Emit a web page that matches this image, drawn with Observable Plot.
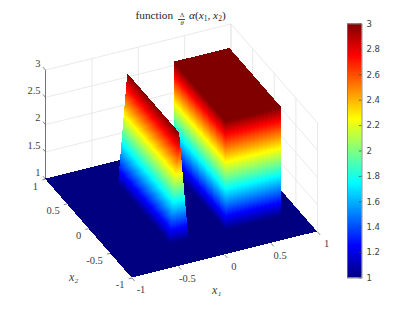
<!DOCTYPE html>
<html>
<head>
<meta charset="utf-8">
<script src="https://cdn.jsdelivr.net/npm/d3@7"></script>
<script src="https://cdn.jsdelivr.net/npm/@observablehq/plot@0.6"></script>
<style>
html,body{margin:0;padding:0;background:#fff}
#chart{position:relative;width:415px;height:312px;overflow:hidden}
#chart svg{position:absolute;left:0;top:0;background:transparent}
#title{position:absolute;left:135.5px;top:9px;font:11.3px "Liberation Serif",serif;color:#262626;white-space:nowrap;line-height:12px}
#title i{font-style:italic}
#title sub{font-size:7.5px;line-height:0;vertical-align:-2px}
#title .frac{display:inline-block;vertical-align:-5.5px;text-align:center;font-size:6.5px;line-height:6.5px;width:7px;margin:0 3.5px 0 2.5px}
#title .frac span{display:block}
#title .frac span+span{border-top:.6px solid #444;font-style:italic}
</style>
</head>
<body>
<div id="chart">
<div id="title">function <span class="frac"><span>Λ</span><span>θ</span></span><i>α</i>(<i>x</i><sub>1</sub>, <i>x</i><sub>2</sub>)</div>
</div>
<script>
// ---- data ----
const axisTicks = [-1, -0.5, 0, 0.5, 1];
const zTicks = [1, 1.5, 2, 2.5, 3];
const colorbarTicks = [1, 1.2, 1.4, 1.6, 1.8, 2, 2.2, 2.4, 2.6, 2.8, 3];
const zBase = 1;
const zPeak = 3;
const ridgeX1 = [-0.4, -0.3, -0.2];
const ridgeX2 = [-0.6, 0.6];
const blockX1 = [0.2, 0.8];
const blockX2 = [-0.6, 0.6];
const jetStops = [1, 1.25, 1.75, 2.25, 2.75, 3];
const jetColors = ["#000080", "#0000ff", "#00ffff", "#ffff00", "#ff0000", "#800000"];
const shadingSteps = 110;

// ---- view of the 3D box (MATLAB style orthographic view) ----
const az = -25 * Math.PI / 180, el = 32.3 * Math.PI / 180, zStretch = 0.534;
const U = (a, b) => Math.cos(az) * a + Math.sin(az) * b;
const V = (a, b, c) => -Math.sin(el) * Math.sin(az) * a + Math.sin(el) * Math.cos(az) * b + zStretch * c;

const color = {type: "linear", domain: jetStops, range: jetColors, interpolate: "rgb"};
const mid = (p, q, t) => p + (q - p) * t;
const levels = d3.range(shadingSteps);

// a face is a bottom edge at zBase rising to a top edge at zPeak
function face(bottomA, bottomB, topA, topB) {
  const rows = [];
  for (const i of levels) {
    const t0 = i / shadingSteps, t1 = Math.min(1, (i + 2) / shadingSteps);
    for (const t of [t0, t1]) {
      const zz = mid(zBase, zPeak, t);
      const pa = [mid(bottomA[0], topA[0], t), mid(bottomA[1], topA[1], t)];
      const pb = [mid(bottomB[0], topB[0], t), mid(bottomB[1], topB[1], t)];
      rows.push({band: i, value: mid(zBase, zPeak, (i + 0.5) / shadingSteps),
        ua: U(pa[0], pa[1]), va: V(pa[0], pa[1], zz), ub: U(pb[0], pb[1]), vb: V(pb[0], pb[1], zz)});
    }
  }
  return rows;
}
const flat = (xs, ys, zz) => [
  {band: 0, value: zz, ua: U(xs[0], ys[0]), va: V(xs[0], ys[0], zz), ub: U(xs[1], ys[0]), vb: V(xs[1], ys[0], zz)},
  {band: 0, value: zz, ua: U(xs[0], ys[1]), va: V(xs[0], ys[1], zz), ub: U(xs[1], ys[1]), vb: V(xs[1], ys[1], zz)}
];
const quadMark = rows => Plot.area(rows, {x1: "ua", y1: "va", x2: "ub", y2: "vb", z: "band", fill: "value", curve: "linear", shapeRendering: "crispEdges"});

const [rLo, rTop, rHi] = ridgeX1, [yLo, yHi] = ridgeX2;
const [bLo, bHi] = blockX1, [cLo, cHi] = blockX2;
const xMin = axisTicks[0], xMax = axisTicks[axisTicks.length - 1];

const seg = (a0, b0, c0, a1, b1, c1) => ({u0: U(a0, b0), v0: V(a0, b0, c0), u1: U(a1, b1), v1: V(a1, b1, c1)});
const gridSegs = [
  ...zTicks.map(c => seg(xMin, xMax, c, xMax, xMax, c)),
  ...zTicks.map(c => seg(xMax, xMax, c, xMax, xMin, c)),
  ...axisTicks.map(a => seg(a, xMax, zBase, a, xMax, zPeak)),
  ...axisTicks.map(b => seg(xMax, b, zBase, xMax, b, zPeak))
];
const tickLen = 0.06;
const tickSegs = [
  ...axisTicks.map(a => seg(a, xMin, zBase, a, xMin - tickLen, zBase)),
  ...axisTicks.map(b => seg(xMin, b, zBase, xMin - tickLen * 0.6, b, zBase)),
  ...zTicks.map(c => seg(xMin, xMax, c, xMin, xMax + tickLen, c))
];
const x1Labels = axisTicks.map(a => ({t: a, u: U(a, xMin), v: V(a, xMin, zBase)}));
const x2Labels = axisTicks.map(b => ({t: b, u: U(xMin, b), v: V(xMin, b, zBase)}));
const zLabels = zTicks.map(c => ({t: c, u: U(xMin, xMax), v: V(xMin, xMax, c)}));
const serif = {fontFamily: "Liberation Serif", fontSize: 10.5, fill: "#404040"};

const main = Plot.plot({
  width: 415, height: 312, margin: 0,
  x: {axis: null, domain: [U(xMin, xMax), U(xMax, xMin)], range: [45, 317]},
  y: {axis: null, domain: [V(xMin, xMin, zBase), V(xMax, xMax, zPeak)], range: [277.5, 23.5]},
  color,
  marks: [
    Plot.link(gridSegs, {x1: "u0", y1: "v0", x2: "u1", y2: "v1", stroke: "#e6e6e6", strokeWidth: 0.9}),
    Plot.link([seg(xMin, xMax, zBase, xMin, xMax, zPeak)], {x1: "u0", y1: "v0", x2: "u1", y2: "v1", stroke: "#666", strokeWidth: 0.9}),
    Plot.link(tickSegs, {x1: "u0", y1: "v0", x2: "u1", y2: "v1", stroke: "#666", strokeWidth: 0.8}),
    quadMark(flat([xMin, xMax], [xMin, xMax], zBase)),
    quadMark(face([bLo, cLo], [bLo, cHi], [bLo, cLo], [bLo, cHi])),
    quadMark(face([bLo, cLo], [bHi, cLo], [bLo, cLo], [bHi, cLo])),
    quadMark(flat(blockX1, blockX2, zPeak)),
    quadMark(face([rLo, yLo], [rLo, yHi], [rTop, yLo], [rTop, yHi])),
    quadMark(face([rLo, yLo], [rHi, yLo], [rTop, yLo], [rTop, yLo])),
    Plot.text(x1Labels, {x: "u", y: "v", text: d => String(d.t), dx: 9, dy: 12, ...serif}),
    Plot.text(x2Labels, {x: "u", y: "v", text: d => String(d.t), textAnchor: "end", dx: -7.5, dy: 7, ...serif}),
    Plot.text(zLabels, {x: "u", y: "v", text: d => String(d.t), textAnchor: "end", dx: -5, dy: -6.5, ...serif}),
    Plot.text(["x₁"], {x: U(0, xMin), y: V(0, xMin, zBase), dx: -8, dy: 35.5, fontStyle: "italic", fontFamily: "Liberation Serif", fontSize: 12, fill: "#404040"}),
    Plot.text(["x₂"], {x: U(xMin, 0), y: V(xMin, 0, zBase), dx: -15, dy: 48.5, fontStyle: "italic", fontFamily: "Liberation Serif", fontSize: 12, fill: "#404040"})
  ]
});

const bar = Plot.plot({
  width: 415, height: 312,
  marginLeft: 347, marginRight: 53.5, marginTop: 23.5, marginBottom: 34.5,
  x: {axis: null, domain: [0, 1]},
  y: {domain: [zBase, zPeak]},
  color,
  marks: [
    Plot.rect(levels, {x1: 0, x2: 1,
      y1: i => mid(zBase, zPeak, i / shadingSteps),
      y2: i => mid(zBase, zPeak, Math.min(1, (i + 1.6) / shadingSteps)),
      fill: i => mid(zBase, zPeak, (i + 0.5) / shadingSteps)}),
    Plot.ruleY(colorbarTicks, {x1: 0.82, x2: 1, stroke: "#444", strokeWidth: 0.7}),
    Plot.frame({stroke: "#777", strokeWidth: 0.8}),
    Plot.axisY({anchor: "right", ticks: colorbarTicks, tickSize: 0, tickPadding: 4.5, tickFormat: d => String(d), label: null,
      fontFamily: "DejaVu Sans", fontSize: 8.5, color: "#404040"})
  ]
});
document.getElementById("chart").append(main, bar);
</script>
</body>
</html>
